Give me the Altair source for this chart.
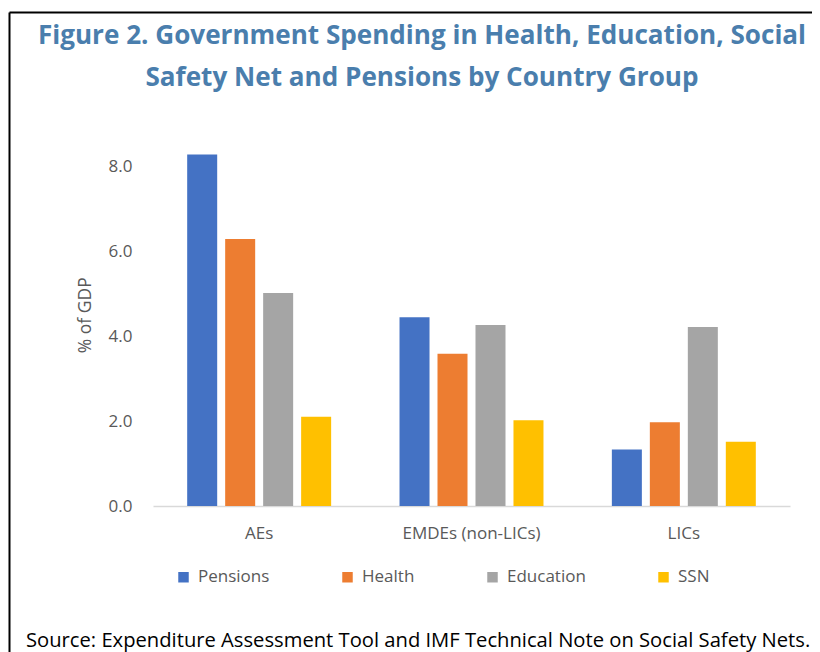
import altair as alt
import pandas as pd

groups = ["AEs", "EMDEs (non-LICs)", "LICs"]
series = ["Pensions", "Health", "Education", "SSN"]
values = {
    "Pensions": [8.27, 4.44, 1.33],
    "Health": [6.28, 3.58, 1.97],
    "Education": [5.01, 4.26, 4.21],
    "SSN": [2.10, 2.02, 1.51],
}
colors = ["#4472C4", "#ED7D31", "#A5A5A5", "#FFC000"]
y_ticks = [0, 2, 4, 6, 8]
title_lines = ["Figure 2. Government Spending in Health, Education, Social",
               "Safety Net and Pensions by Country Group"]
source_text = "Source: Expenditure Assessment Tool and IMF Technical Note on Social Safety Nets."

rows = []
for s in series:
    for g, v in zip(groups, values[s]):
        rows.append({"group": g, "series": s, "value": v})
df = pd.DataFrame(rows)

W, H = 637, 382.5
PL, PT = 145, 115.5
X0, Y0 = 8 + PL, 8 + PT  # page position of plot origin
LBL = "Open Sans"
GRAY = "#595959"

bars = alt.Chart(df).mark_bar().encode(
    x=alt.X("group:N", sort=groups,
            scale=alt.Scale(paddingInner=0, paddingOuter=0),
            axis=alt.Axis(title=None, labelAngle=0, ticks=False, labelPadding=19,
                          labelFontSize=17, labelColor=GRAY, labelFont=LBL,
                          domainColor="#D9D9D9", domainWidth=1.5)),
    xOffset=alt.XOffset("series:N", sort=series,
                        scale=alt.Scale(paddingInner=0.21, paddingOuter=0.9)),
    y=alt.Y("value:Q", scale=alt.Scale(domain=[0, 9], nice=False),
            axis=alt.Axis(title="% of GDP", values=y_ticks, format=".1f", grid=False,
                          domain=False, ticks=False, labelPadding=21,
                          labelFontSize=17, labelColor=GRAY, labelFont=LBL,
                          titleFontSize=17.5, titleColor=GRAY, titleFont=LBL,
                          titleFontWeight="normal", titlePadding=14)),
    color=alt.Color("series:N", sort=series,
                    scale=alt.Scale(domain=series, range=colors),
                    legend=alt.Legend(title=None, orient="none", direction="horizontal",
                                      legendX=22, legendY=445, symbolType="square",
                                      symbolSize=110, symbolStrokeWidth=0,
                                      labelFontSize=17, labelColor=GRAY,
                                      labelFont=LBL, labelOffset=6,
                                      columnPadding=69)),
)

title = alt.Chart(pd.DataFrame({"t": ["\n".join(title_lines)]})).mark_text(
    align="center", baseline="top", fontSize=26.1, font="Open Sans", fontWeight="bold",
    color="#4A7EAD", lineBreak="\n", lineHeight=42
).encode(x=alt.value(422 - X0), y=alt.value(23 - Y0), text="t:N")

src = alt.Chart(pd.DataFrame({"t": [source_text]})).mark_text(
    align="left", baseline="alphabetic", fontSize=20.2, font=LBL, color="#000000"
).encode(x=alt.value(26 - X0), y=alt.value(647 - Y0), text="t:N")

border_top = alt.Chart(pd.DataFrame({"a": [0]})).mark_rule(color="#000000", strokeWidth=2).encode(
    x=alt.value(9.5 - X0), x2=alt.value(814 - X0), y=alt.value(12.5 - Y0))
border_left = alt.Chart(pd.DataFrame({"a": [0]})).mark_rule(color="#000000", strokeWidth=2).encode(
    x=alt.value(9.5 - X0), y=alt.value(12.5 - Y0), y2=alt.value(670 - Y0))

chart = alt.layer(bars, title, src, border_top, border_left).properties(
    width=W, height=H,
    background="white",
    padding={"left": PL, "top": PT, "right": 804 - PL - W, "bottom": 660 - PT - H},
    autosize=alt.AutoSizeParams(type="none"),
).configure_view(stroke=None)

chart.save("out.html", embed_options={"renderer": "svg", "actions": False})
